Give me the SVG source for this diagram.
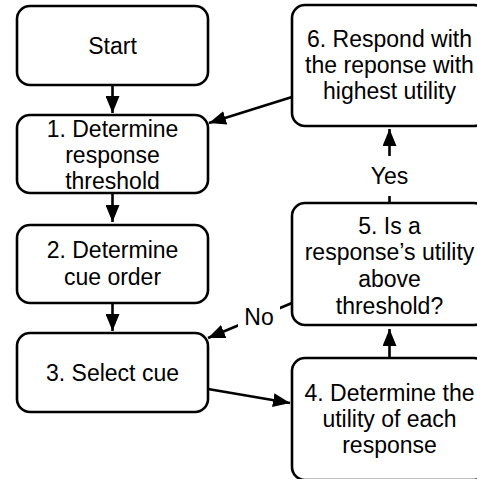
<svg xmlns="http://www.w3.org/2000/svg" width="477" height="479" viewBox="0 0 477 479">
  <style>
    .box { fill: #ffffff; stroke: #000000; stroke-width: 2.6; }
    .edge { fill: none; stroke: #000000; stroke-width: 2.6; }
    text { font-family: "Liberation Sans", Arial, Helvetica, sans-serif; font-size: 23px; fill: #000000; text-anchor: middle; }
    .lblbg { fill: #ffffff; stroke: none; }
  </style>
  <defs>
    <marker id="arrow" markerUnits="userSpaceOnUse" markerWidth="18" markerHeight="14" refX="17" refY="7" orient="auto">
      <path d="M0,0 L17,7 L0,14 Z" fill="#000000"/>
    </marker>
  </defs>

  <rect width="477" height="479" fill="#ffffff"/>

  <!-- connectors -->
  <g id="connectors">
    <line class="edge" x1="112.5" y1="85" x2="112.5" y2="113" marker-end="url(#arrow)"/>
    <line class="edge" x1="112.5" y1="193" x2="112.5" y2="222" marker-end="url(#arrow)"/>
    <line class="edge" x1="112.5" y1="303" x2="112.5" y2="331" marker-end="url(#arrow)"/>
    <line class="edge" x1="208" y1="389" x2="290" y2="403" marker-end="url(#arrow)"/>
    <line class="edge" x1="389.5" y1="358" x2="389.5" y2="329" marker-end="url(#arrow)"/>
    <line class="edge" x1="389.5" y1="203" x2="389.5" y2="129" marker-end="url(#arrow)"/>
    <line class="edge" x1="292" y1="97" x2="209" y2="123" marker-end="url(#arrow)"/>
    <line class="edge" x1="292" y1="303" x2="208" y2="338" marker-end="url(#arrow)"/>
    <!-- edge labels -->
    <g id="label-yes">
      <rect class="lblbg" x="368" y="156" width="43" height="40"/>
      <text x="389.5" y="184">Yes</text>
    </g>
    <g id="label-no">
      <rect class="lblbg" x="238" y="306" width="42" height="24"/>
      <text x="259" y="325">No</text>
    </g>
  </g>

  <!-- left column -->
  <g id="start">
    <rect class="box" x="17" y="6" width="191" height="79" rx="13"/>
    <text x="112.5" y="54">Start</text>
  </g>
  <g id="step1">
    <rect class="box" x="17" y="115" width="191" height="78" rx="13"/>
    <text x="112.5" y="137">1. Determine</text>
    <text x="112.5" y="163">response</text>
    <text x="112.5" y="189">threshold</text>
  </g>
  <g id="step2">
    <rect class="box" x="17" y="225" width="191" height="78" rx="13"/>
    <text x="112.5" y="258">2. Determine</text>
    <text x="112.5" y="285">cue order</text>
  </g>
  <g id="step3">
    <rect class="box" x="17" y="333" width="191" height="79" rx="13"/>
    <text x="112.5" y="381">3. Select cue</text>
  </g>

  <!-- right column -->
  <g id="step6">
    <rect class="box" x="292" y="5" width="195" height="121" rx="13"/>
    <text x="389.5" y="47">6. Respond with</text>
    <text x="389.5" y="73">the reponse with</text>
    <text x="389.5" y="99">highest utility</text>
  </g>
  <g id="step5">
    <rect class="box" x="292" y="203" width="195" height="122" rx="13"/>
    <text x="389.5" y="234">5. Is a</text>
    <text x="389.5" y="260">response’s utility</text>
    <text x="389.5" y="287">above</text>
    <text x="389.5" y="314">threshold?</text>
  </g>
  <g id="step4">
    <rect class="box" x="292" y="358" width="195" height="122" rx="13"/>
    <text x="389.5" y="401">4. Determine the</text>
    <text x="389.5" y="427">utility of each</text>
    <text x="389.5" y="453">response</text>
  </g>
</svg>
